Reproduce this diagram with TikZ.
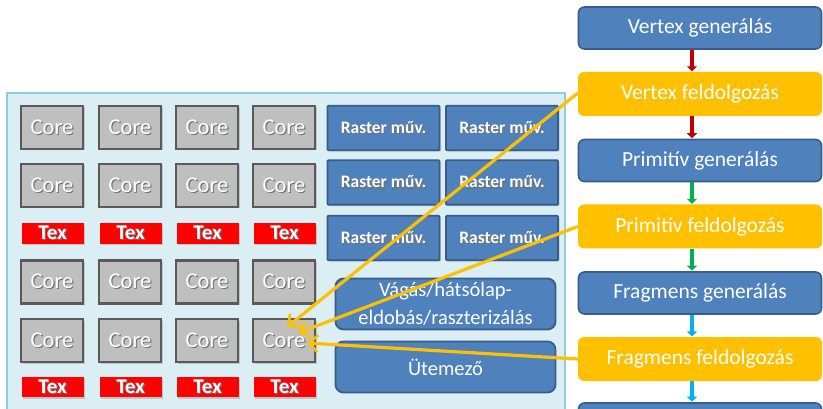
\documentclass[tikz,border=0pt]{standalone}
\usepackage{fontspec}
\setmainfont{Carlito}
\usetikzlibrary{arrows.meta,shadows}
\definecolor{panelfill}{HTML}{DBEEF4}
\definecolor{paneldraw}{HTML}{93CDDD}
\definecolor{corefill}{HTML}{BFBFBF}
\definecolor{coredraw}{HTML}{5A5A5A}
\definecolor{texred}{HTML}{FF0000}
\definecolor{bluefill}{HTML}{4F81BD}
\definecolor{bluedraw}{HTML}{385D8A}
\definecolor{yel}{HTML}{FFC000}
\definecolor{arrred}{HTML}{C00000}
\definecolor{arrgreen}{HTML}{00B050}
\definecolor{arrcyan}{HTML}{00B0F0}
\newcommand{\shtext}[1]{\rlap{\hspace{1.2pt}\raisebox{-1.2pt}{\textcolor{black!55}{#1}}}#1}
\tikzset{
  corebox/.style={draw=coredraw, line width=2.4pt, fill=corefill, minimum width=62pt, minimum height=43pt, inner sep=0pt, text=white, font=\fontsize{22.5}{24}\selectfont, drop shadow={opacity=0.35, shadow xshift=1.5pt, shadow yshift=-1.5pt}},
  texbox/.style={fill=texred, minimum width=62pt, minimum height=20.5pt, inner sep=0pt, text=white, font=\bfseries\fontsize{21}{22}\selectfont, drop shadow={opacity=0.35, shadow xshift=1.5pt, shadow yshift=-1.5pt}},
  rasterbox/.style={draw=bluedraw, line width=1.8pt, fill=bluefill, minimum width=112pt, minimum height=44.5pt, inner sep=0pt, rounded corners=1pt, text=white, font=\bfseries\fontsize{17.5}{19}\selectfont, drop shadow={opacity=0.3, shadow xshift=1.5pt, shadow yshift=-1.5pt}},
  bigbox/.style={draw=bluedraw, line width=1.8pt, fill=bluefill, minimum width=220pt, minimum height=51pt, inner sep=0pt, rounded corners=8pt, text=white, align=center, font=\fontsize{20.5}{25}\selectfont},
  stagebox/.style={draw=bluedraw, line width=1.6pt, fill=bluefill, minimum width=243pt, minimum height=42pt, inner sep=0pt, rounded corners=6pt, text=white, font=\fontsize{21.5}{24}\selectfont},
  procbox/.style={fill=yel, minimum width=244pt, minimum height=44pt, inner sep=0pt, rounded corners=6pt, text=white, font=\fontsize{21.5}{24}\selectfont},
  flow/.style={line width=3.8pt, -{Triangle[length=5pt,width=10pt]}, shorten >=0.5pt},
  yarrow/.style={draw=yel, line width=3.2pt, -{Straight Barb[length=9pt,width=17pt,line width=2.6pt]}},
}
\begin{document}
\begin{tikzpicture}[x=1pt,y=-1pt]
\clip (0,0) rectangle (823,409);
\fill[white] (0,0) rectangle (823,409);
% panel
\draw[draw=paneldraw, line width=1.8pt, fill=panelfill] (7,93) rectangle (565,430);
% cores
\foreach \cx [count=\i] in {52,130,207,284} {
  \foreach \cy [count=\j] in {127.5,185.5,282,340.5} {
    \node[corebox] (c\j\i) at (\cx,\cy) {\shtext{Core}};
  }
  \node[texbox] (ta\i) at (\cx+0.5,233.5) {\shtext{Tex}};
  \node[texbox] (tb\i) at (\cx+0.5,387) {\shtext{Tex}};
}
% raster
\foreach \cx [count=\i] in {383.5,502} {
  \foreach \cy [count=\j] in {128,182.5,238} {
    \node[rasterbox] (r\j\i) at (\cx,\cy) {\shtext{Raster műv.}};
  }
}
\node[bigbox] (clip) at (445.5,304) {Vágás/hátsólap-\\[3pt]eldobás/raszterizálás};
\node[bigbox] (sched) at (445.5,367) {Ütemező};
% pipeline
\node[stagebox] (vg) at (700,28) {Vertex generálás};
\node[procbox] (vf) at (700,94) {Vertex feldolgozás};
\node[stagebox] (pg) at (700,160.5) {Primitív generálás};
\node[procbox] (pf) at (700,226.5) {Primitív feldolgozás};
\node[stagebox] (fg) at (700,293) {Fragmens generálás};
\node[procbox] (ff) at (700,359) {Fragmens feldolgozás};
\node[stagebox] (last) at (700,424) {};
\draw[flow, arrred] ([xshift=-8pt]vg.south) -- ([xshift=-8pt]vf.north);
\draw[flow, arrred] ([xshift=-8pt]vf.south) -- ([xshift=-8pt]pg.north);
\draw[flow, arrgreen] ([xshift=-8pt]pg.south) -- ([xshift=-8pt]pf.north);
\draw[flow, arrgreen] ([xshift=-8pt]pf.south) -- ([xshift=-8pt]fg.north);
\draw[flow, arrcyan] ([xshift=-8pt]fg.south) -- ([xshift=-8pt]ff.north);
\draw[flow, arrcyan] ([xshift=-8pt]ff.south) -- ([xshift=-8pt]last.north);
% yellow arrows
\coordinate (t1) at (287,327);
\coordinate (t2) at (298,333);
\coordinate (t3) at (307,343);
\draw[yarrow] ([yshift=1pt]vf.west) -- (t1);
\draw[yarrow] (pf.west) -- (t2);
\draw[yarrow] (ff.west) -- (t3);
\end{tikzpicture}
\end{document}
